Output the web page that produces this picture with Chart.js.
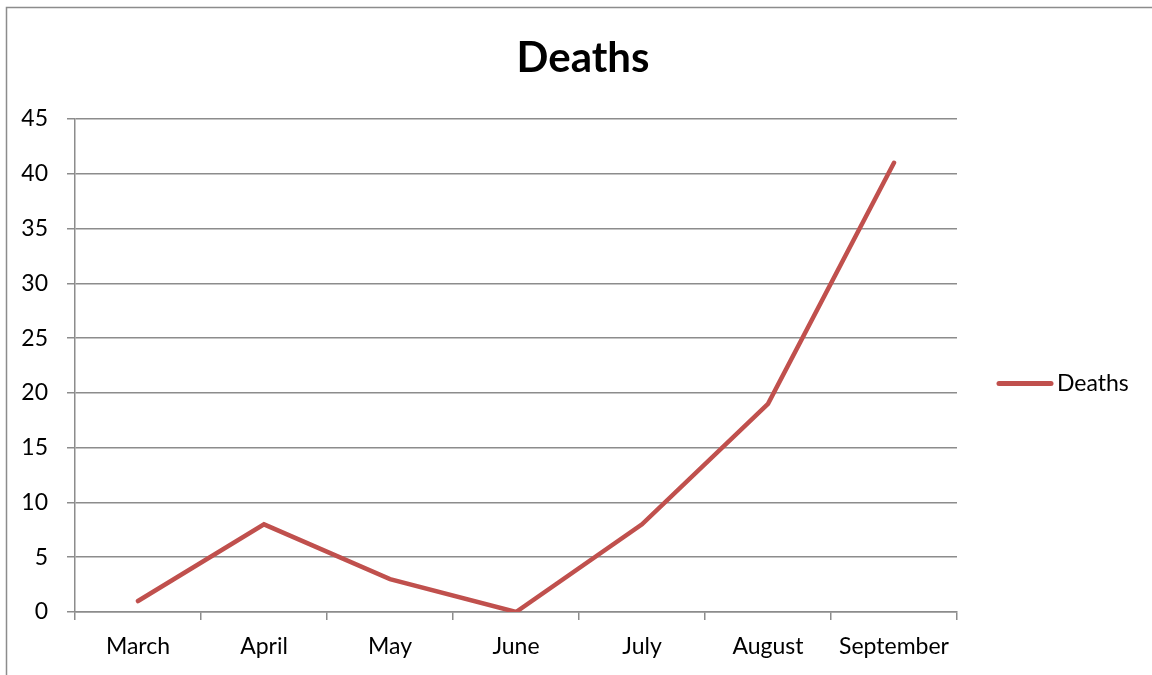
<!DOCTYPE html>
<html>
<head>
<meta charset="utf-8">
<script src="https://cdn.jsdelivr.net/npm/chart.js@4.4.0/dist/chart.umd.min.js"></script>
<style>
html,body{margin:0;padding:0;background:#fff;}
#wrap{position:relative;width:1152px;height:675px;}
</style>
</head>
<body>
<div id="wrap"><canvas id="c" width="1152" height="675"></canvas></div>
<script>
const categories = ["March", "April", "May", "June", "July", "August", "September"];
const deaths = [1, 8, 3, 0, 8, 19, 41];
const seriesName = "Deaths";
const chartTitle = "Deaths";
const yMin = 0, yMax = 45, yStep = 5;

const FONT = "Lato, 'Liberation Sans', sans-serif";
const LINE_COLOR = "#C0504D";
const GRID_COLOR = "#8C8C8C";

const decor = {
  id: 'decor',
  afterDraw(chart) {
    const ctx = chart.ctx;
    ctx.save();
    // outer border (left & top visible)
    ctx.strokeStyle = "#8C8C8C";
    ctx.lineWidth = 1.5;
    ctx.beginPath();
    ctx.moveTo(6.5, 680);
    ctx.lineTo(6.5, 7.5);
    ctx.lineTo(1160, 7.5);
    ctx.stroke();
    // title
    ctx.fillStyle = "#000";
    ctx.font = "bold 42px " + FONT;
    ctx.textAlign = "center";
    ctx.textBaseline = "middle";
    ctx.fillText(chartTitle, 583, 58);
    // legend
    const ds = chart.data.datasets[0];
    const y = 383.5;
    ctx.strokeStyle = ds.borderColor;
    ctx.lineWidth = 5;
    ctx.lineCap = "round";
    ctx.beginPath();
    ctx.moveTo(999, y);
    ctx.lineTo(1051, y);
    ctx.stroke();
    ctx.fillStyle = "#000";
    ctx.font = "23px " + FONT;
    ctx.textAlign = "left";
    ctx.fillText(ds.label, 1057, y);
    ctx.restore();
  }
};

new Chart(document.getElementById('c'), {
  type: 'line',
  data: {
    labels: categories,
    datasets: [{
      label: seriesName,
      data: deaths,
      borderColor: LINE_COLOR,
      backgroundColor: LINE_COLOR,
      borderWidth: 4.5,
      pointRadius: 0,
      tension: 0,
      borderCapStyle: 'round',
      borderJoinStyle: 'miter',
      fill: false
    }]
  },
  options: {
    responsive: false,
    animation: false,
    devicePixelRatio: 1,
    layout: { padding: { left: 0, top: 119, right: 1152 - 957, bottom: 0 } },
    plugins: {
      legend: { display: false },
      title: { display: false },
      tooltip: { enabled: false }
    },
    scales: {
      x: {
        offset: true,
        grid: {
          display: true,
          drawOnChartArea: false,
          drawTicks: true,
          tickLength: 8,
          color: GRID_COLOR,
          lineWidth: 1.5,
          offset: true
        },
        border: { display: true, color: GRID_COLOR, width: 1.5 },
        ticks: {
          color: "#000",
          font: { family: FONT, size: 23 },
          padding: 13,
          maxRotation: 0,
          autoSkip: false
        },
        afterFit(scale) { scale.height = 675 - 612; }
      },
      y: {
        min: yMin,
        max: yMax,
        grid: {
          color: GRID_COLOR,
          lineWidth: 1.5,
          tickLength: 8
        },
        border: { display: true, color: GRID_COLOR, width: 1.5 },
        ticks: {
          stepSize: yStep,
          color: "#000",
          font: { family: FONT, size: 23 },
          padding: 19
        },
        afterFit(scale) { scale.width = 75; }
      }
    }
  },
  plugins: [decor]
});
</script>
</body>
</html>
